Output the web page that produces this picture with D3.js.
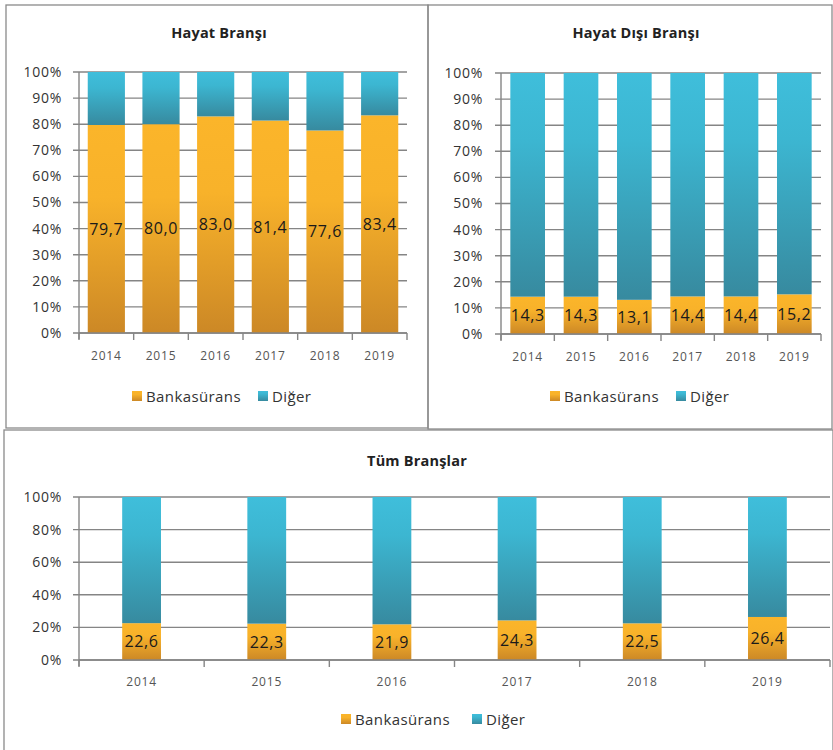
<!DOCTYPE html>
<html>
<head>
<meta charset="utf-8">
<script src="https://cdn.jsdelivr.net/npm/d3@7"></script>
<style>
  body { margin: 0; background: #fff; }
  svg { display: block; font-family: "Open Sans", sans-serif; }
</style>
</head>
<body>
<svg width="833" height="750"></svg>
<script>
// data
var years = ["2014", "2015", "2016", "2017", "2018", "2019"];
var seriesNames = ["Bankasürans", "Diğer"];

var hayatBanka = [79.7, 80.0, 83.0, 81.4, 77.6, 83.4];
var hayatDiger = [20.3, 20.0, 17.0, 18.6, 22.4, 16.6];

var hayatDisiBanka = [14.3, 14.3, 13.1, 14.4, 14.4, 15.2];
var hayatDisiDiger = [85.7, 85.7, 86.9, 85.6, 85.6, 84.8];

var tumBanka = [22.6, 22.3, 21.9, 24.3, 22.5, 26.4];
var tumDiger = [77.4, 77.7, 78.1, 75.7, 77.5, 73.6];

var ticks10 = [0, 10, 20, 30, 40, 50, 60, 70, 80, 90, 100];
var ticks20 = [0, 20, 40, 60, 80, 100];

var svg = d3.select('svg');
var trLocale = d3.formatLocale({decimal: ",", thousands: ".", grouping: [3], currency: ["", " TL"]});
var fmt = trLocale.format(".1f");

// gradients, one per series
var defs = svg.append('defs');
function grad(id, stops) {
    var g = defs.append('linearGradient').attr('id', id)
        .attr('x1', 0).attr('y1', 0).attr('x2', 0).attr('y2', 1);
    stops.forEach(function(s) {
        g.append('stop').attr('offset', s[0]).attr('stop-color', s[1]);
    });
}
grad('gOrange', [[0, '#fbb52a'], [0.35, '#f8b22a'], [1, '#cc8826']]);
grad('gBlue', [[0, '#3fbedb'], [0.3, '#3cb6d1'], [1, '#378a9f']]);
var fills = ['url(#gOrange)', 'url(#gBlue)'];

function drawPanel(p) {
    // frame
    svg.append('rect')
        .attr('x', p.box[0]).attr('y', p.box[1])
        .attr('width', p.box[2]).attr('height', p.box[3])
        .attr('fill', 'none').attr('stroke', '#8a8a8a').attr('stroke-width', 1.3);

    svg.append('text')
        .attr('x', p.titleX).attr('y', p.titleY)
        .attr('text-anchor', 'middle')
        .style('font-size', '14.5px').style('font-weight', 'bold')
        .style('letter-spacing', '0.2px')
        .style('fill', '#222')
        .text(p.title);

    var w = p.right - p.left, h = p.bottom - p.top;
    var g = svg.append('g').attr('transform', 'translate(' + p.left + ',' + p.top + ')');

    var x = d3.scaleBand().domain(years).range([0, w])
        .paddingInner(p.pad).paddingOuter(p.pad / 2);
    var y = d3.scaleLinear().domain([0, 100]).range([h, 0]);

    // gridlines
    g.selectAll('.grid').data(p.ticks).enter().append('line')
        .attr('x1', -6).attr('x2', w)
        .attr('y1', function(d) { return y(d); })
        .attr('y2', function(d) { return y(d); })
        .attr('stroke', '#858585').attr('stroke-width', 1.4);

    // stacked bars
    var rows = years.map(function(yr, i) {
        return {year: yr, b: p.banka[i], d: p.diger[i]};
    });
    var stack = d3.stack().keys(['b', 'd'])(rows);

    g.selectAll('.series').data(stack).enter().append('g')
        .attr('fill', function(d, i) { return fills[i]; })
        .selectAll('rect').data(function(d) { return d; }).enter().append('rect')
        .attr('x', function(d) { return x(d.data.year); })
        .attr('width', x.bandwidth())
        .attr('y', function(d) { return y(d[1]); })
        .attr('height', function(d) { return y(d[0]) - y(d[1]); });

    // y axis
    var yAxis = g.append('g').call(d3.axisLeft(y).tickValues(p.ticks)
        .tickSize(0).tickPadding(p.tickPad)
        .tickFormat(function(d) { return d + '%'; }));
    yAxis.select('.domain').remove();
    yAxis.selectAll('text').style('font-size', '14px').style('fill', '#333')
        .style('letter-spacing', '0.7px').style('font-family', '"Open Sans", sans-serif');
    g.append('line').attr('x1', 0).attr('x2', 0).attr('y1', 0).attr('y2', h + 6)
        .attr('stroke', '#858585').attr('stroke-width', 1.4);

    // x axis: category boundary ticks
    g.append('line').attr('x1', 0).attr('x2', w).attr('y1', h).attr('y2', h)
        .attr('stroke', '#858585').attr('stroke-width', 1.4);
    g.selectAll('.xt').data(d3.range(years.length + 1)).enter().append('line')
        .attr('x1', function(i) { return i * x.step(); })
        .attr('x2', function(i) { return i * x.step(); })
        .attr('y1', h).attr('y2', h + 7)
        .attr('stroke', '#858585').attr('stroke-width', 1.4);
    var xAxis = g.append('g').attr('transform', 'translate(0,' + h + ')')
        .call(d3.axisBottom(x).tickSize(0).tickPadding(p.xPad));
    xAxis.select('.domain').remove();
    xAxis.selectAll('text').style('font-size', '12px').style('fill', '#555')
        .style('letter-spacing', '0.8px').style('font-family', '"Open Sans", sans-serif');

    // data labels
    g.selectAll('.lbl').data(stack[0]).enter().append('text')
        .attr('x', function(d) { return x(d.data.year) + x.bandwidth() / 2; })
        .attr('y', function(d) { return y((d[0] + d[1]) / 2); })
        .attr('dy', '0.36em')
        .attr('text-anchor', 'middle')
        .style('font-size', p.lblSize + 'px').style('fill', '#1a1a1a')
        .style('letter-spacing', '0.6px')
        .text(function(d) { return fmt(d.data.b); });

    // legend
    var lg = svg.selectAll(null).data(seriesNames).enter().append('g')
        .attr('transform', function(d, i) { return 'translate(' + p.legendX[i] + ',' + p.legendY + ')'; });
    lg.append('rect').attr('x', 0).attr('y', -6).attr('width', 10).attr('height', 10)
        .attr('fill', function(d, i) { return fills[i]; });
    lg.append('text').attr('x', 14).attr('y', 0).attr('dy', '0.35em')
        .style('font-size', '15px').style('fill', '#333')
        .style('letter-spacing', '0.4px')
        .text(function(d) { return d; });
}

drawPanel({
    title: 'Hayat Branşı', titleX: 219, titleY: 38,
    box: [6, 5, 422, 423],
    left: 79, right: 407, top: 72, bottom: 333,
    pad: 0.32, ticks: ticks10, tickPad: 17, xPad: 18, lblSize: 16,
    banka: hayatBanka, diger: hayatDiger,
    legendX: [132, 258], legendY: 397
});

drawPanel({
    title: 'Hayat Dışı Branşı', titleX: 636, titleY: 38,
    box: [428, 5, 404, 424],
    left: 501, right: 821, top: 73, bottom: 334,
    pad: 0.35, ticks: ticks10, tickPad: 18, xPad: 18, lblSize: 16,
    banka: hayatDisiBanka, diger: hayatDisiDiger,
    legendX: [550, 676], legendY: 397
});

drawPanel({
    title: 'Tüm Branşlar', titleX: 417, titleY: 466,
    box: [4, 430, 829, 330],
    left: 79, right: 830, top: 497, bottom: 660,
    pad: 0.69, ticks: ticks20, tickPad: 17, xPad: 17, lblSize: 16,
    banka: tumBanka, diger: tumDiger,
    legendX: [341, 472], legendY: 720
});
</script>
</body>
</html>
